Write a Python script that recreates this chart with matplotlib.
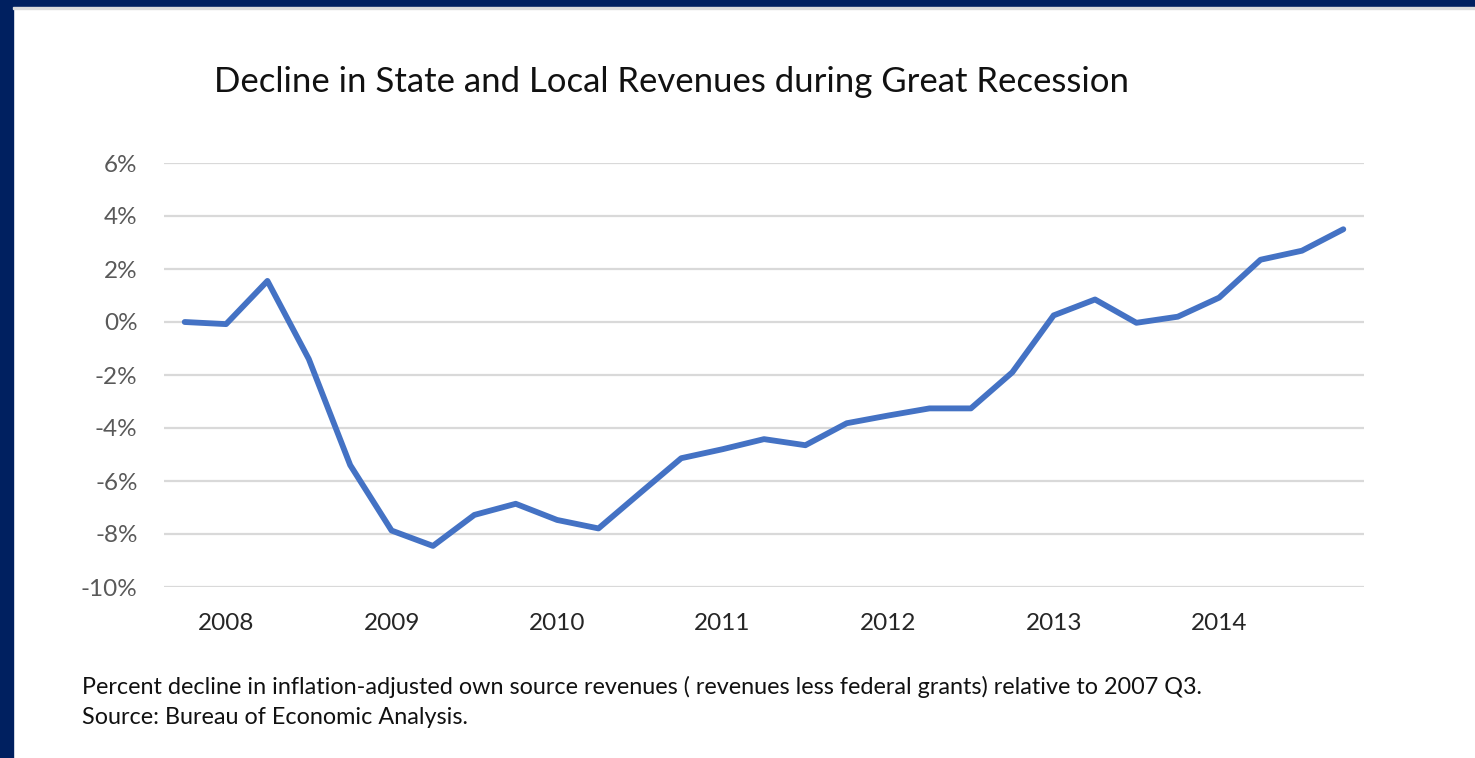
import numpy as np
import matplotlib.pyplot as plt
from matplotlib.patches import Rectangle
from matplotlib.ticker import FuncFormatter

# quarterly change, relative to 2007 Q3 (percent)
change = [0.0, -0.08, 1.55, -1.4, -5.4, -7.87, -8.45, -7.28, -6.86, -7.47,
          -7.79, -6.46, -5.14, -4.8, -4.42, -4.65, -3.82, -3.53, -3.26, -3.26,
          -1.9, 0.25, 0.85, -0.03, 0.2, 0.92, 2.35, 2.69, 3.5]
year_labels = ['2008', '2009', '2010', '2011', '2012', '2013', '2014']
year_pos = [1, 5, 9, 13, 17, 21, 25]

title = 'Decline in State and Local Revenues during Great Recession'
note = ('Percent decline in inflation-adjusted own source revenues ( revenues less '
        'federal grants) relative to 2007 Q3.\nSource: Bureau of Economic Analysis.')

plt.rcParams['font.family'] = ['Lato', 'DejaVu Sans']

W, H = 1475, 758
fig = plt.figure(figsize=(W / 100, H / 100), dpi=100)

# navy frame on top and left
fig.patches.append(Rectangle((0, 1 - 7 / H), 1, 7 / H, transform=fig.transFigure,
                             color='#002060', zorder=0))
fig.patches.append(Rectangle((0, 0), 13 / W, 1, transform=fig.transFigure,
                             color='#002060', zorder=0))
fig.patches.append(Rectangle((13 / W, 1 - 9 / H), 1, 2 / H, transform=fig.transFigure,
                             color='#dcdcdc', zorder=0))

ax = fig.add_axes([164 / W, 1 - 587 / H, 1200 / W, 424 / H])
x = np.arange(len(change))
ax.plot(x, change, color='#4472c4', lw=4.2, solid_capstyle='round',
        solid_joinstyle='round', zorder=3)

ax.set_xlim(-0.5, len(change) - 0.5)
ax.set_ylim(-10, 6)
ax.set_yticks(np.arange(-10, 7, 2))
ax.yaxis.set_major_formatter(FuncFormatter(lambda v, p: '%d%%' % v))
ax.set_xticks(year_pos)
ax.set_xticklabels(year_labels)
ax.grid(axis='y', color='#d9d9d9', lw=1.6)
ax.set_axisbelow(True)
for s in ax.spines.values():
    s.set_visible(False)
ax.tick_params(length=0)
ax.tick_params(axis='y', labelsize=17.5, labelcolor='#595959', pad=19)
ax.tick_params(axis='x', labelsize=17.5, labelcolor='#262626', pad=19)

fig.text(671 / W, 1 - 82 / H, title, ha='center', va='center', fontsize=25,
         color='#111111')
fig.text(82 / W, 1 - 702 / H, note, ha='left', va='center', fontsize=16.8,
         color='#111111', linespacing=1.5)

fig.savefig('out.png', dpi=100)
